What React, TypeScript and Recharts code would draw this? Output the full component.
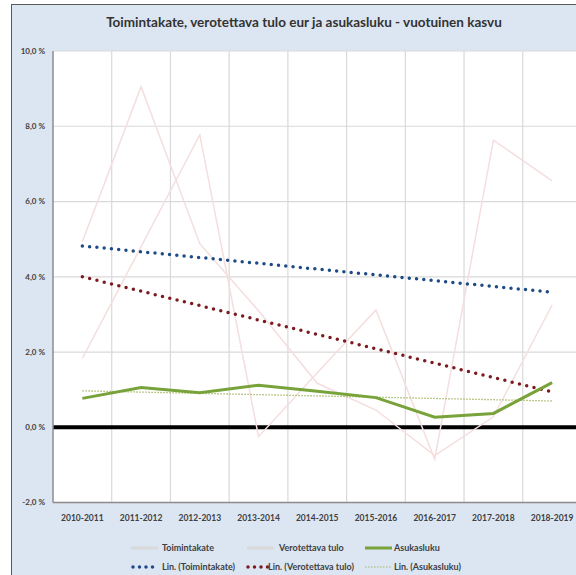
import React from "react";
import {
  CartesianGrid,
  Line,
  LineChart,
  ReferenceLine,
  XAxis,
  YAxis,
} from "recharts";

const vuodet = [
  "2010-2011",
  "2011-2012",
  "2012-2013",
  "2013-2014",
  "2014-2015",
  "2015-2016",
  "2016-2017",
  "2017-2018",
  "2018-2019",
];
const toimintakate = [4.93, 9.05, 4.88, 3.1, 1.17, 0.46, -0.75, 0.28, 3.25];
const verotettavaTulo = [1.83, 4.8, 7.77, -0.25, 1.45, 3.12, -0.85, 7.63, 6.55];
const asukasluku = [0.77, 1.06, 0.92, 1.12, 0.96, 0.79, 0.27, 0.37, 1.19];
// trendiviivat: vain alku- ja loppupiste, väli yhdistetään
const linToimintakate = [4.82, null, null, null, null, null, null, null, 3.59];
const linVerotettava = [4.0, null, null, null, null, null, null, null, 0.94];
const linAsukasluku = [0.97, null, null, null, null, null, null, null, 0.7];
const yTicks = [-2, 0, 2, 4, 6, 8, 10];

const data = vuodet.map((v, i) => ({
  vuosi: v,
  toimintakate: toimintakate[i],
  verotettava: verotettavaTulo[i],
  asukasluku: asukasluku[i],
  linToim: linToimintakate[i],
  linVero: linVerotettava[i],
  linAsuk: linAsukasluku[i],
}));

const FONT = "Lato, 'Open Sans', sans-serif";
const TEKSTI = "#404040";
const VAALEA = "#f5dede";
const VIHREA = "#78a23a";
const SININEN = "#1f4b85";
const PUNAINEN = "#7d1a1f";
const VIHREA_TREND = "#a3b863";

const fmtPros = (v: number) => `${v.toFixed(1).replace(".", ",")} %`;

function YTick({ x, y, payload }: any) {
  return (
    <text x={x} y={y} dy="0.35em" textAnchor="end" fontSize={8} fontWeight={700} fill={TEKSTI} fontFamily={FONT}>
      {fmtPros(payload.value)}
    </text>
  );
}

function Swatch({ kind }: { kind: string }) {
  if (kind === "grey")
    return <line x1={0} y1={4} x2={27} y2={4} stroke="#d9d9d9" strokeWidth={3} />;
  if (kind === "green")
    return <line x1={0} y1={4} x2={27} y2={4} stroke={VIHREA} strokeWidth={3} />;
  if (kind === "blue" || kind === "red")
    return (
      <line x1={2} y1={4} x2={22} y2={4} stroke={kind === "blue" ? SININEN : PUNAINEN}
        strokeWidth={3.5} strokeDasharray="0 6.5" strokeLinecap="round" />
    );
  return <line x1={0} y1={4} x2={27} y2={4} stroke={VIHREA_TREND} strokeWidth={1.2} strokeDasharray="1.5 1.5" />;
}

const selite = [
  { nimi: "Toimintakate", kind: "grey", sx: 131, tx: 162, y: 548 },
  { nimi: "Verotettava tulo", kind: "grey", sx: 247, tx: 279, y: 548 },
  { nimi: "Asukasluku", kind: "green", sx: 365, tx: 394, y: 548 },
  { nimi: "Lin. (Toimintakate)", kind: "blue", sx: 131, tx: 162, y: 567 },
  { nimi: "Lin. (Verotettava tulo)", kind: "red", sx: 246, tx: 268, y: 567 },
  { nimi: "Lin. (Asukasluku)", kind: "gtrend", sx: 365, tx: 394, y: 567 },
];

export default function App() {
  return (
    <div style={{ position: "absolute", left: 0, top: 0, width: 576, height: 575, overflow: "hidden", background: "#fff" }}>
      <div
        style={{
          position: "absolute",
          left: 11,
          top: 4,
          width: 620,
          height: 600,
          border: "1.5px solid #595959",
          background: "#dce6f2",
        }}
      />
      <div
        style={{
          position: "absolute",
          left: 0,
          top: 14,
          width: 608,
          textAlign: "center",
          fontFamily: FONT,
          fontWeight: 700,
          fontSize: 13.5,
          color: "#333",
        }}
      >
        Toimintakate, verotettava tulo eur ja asukasluku - vuotuinen kasvu
      </div>
      <div style={{ position: "absolute", left: 0, top: 0 }}>
        <LineChart width={600} height={575} data={data} margin={{ top: 51, right: 18.5, left: 8, bottom: 42.4 }}>
          <CartesianGrid
            stroke="#d9d9d9"
            strokeWidth={1.2}
            fill="#fff"
            verticalCoordinatesGenerator={({ offset }: any) =>
              vuodet.map((_, i) => offset.left + ((i + 1) * offset.width) / vuodet.length)
            }
          />
          <XAxis
            dataKey="vuosi"
            padding={{ left: 29.36, right: 29.36 }}
            height={30}
            tickSize={0}
            tickMargin={12}
            axisLine={{ stroke: "#8c8c8c", strokeWidth: 1.5 }}
            tick={{ fontSize: 8.5, fontWeight: 700, fill: TEKSTI, fontFamily: FONT }}
            interval={0}
          />
          <YAxis
            domain={[-2, 10]}
            ticks={yTicks}
            width={45}
            tickSize={0}
            tickMargin={8}
            axisLine={{ stroke: "#8c8c8c", strokeWidth: 1.5 }}
            tick={<YTick />}
          />
          <ReferenceLine y={0} stroke="#000" strokeWidth={4} />
          <Line dataKey="toimintakate" stroke={VAALEA} strokeWidth={1.5} dot={false} isAnimationActive={false} />
          <Line dataKey="verotettava" stroke={VAALEA} strokeWidth={1.5} dot={false} isAnimationActive={false} />
          <Line dataKey="linToim" stroke={SININEN} strokeWidth={3.5} strokeDasharray="0 7.3" strokeLinecap="round"
            connectNulls dot={false} isAnimationActive={false} />
          <Line dataKey="linVero" stroke={PUNAINEN} strokeWidth={3.5} strokeDasharray="0 7.5" strokeLinecap="round"
            connectNulls dot={false} isAnimationActive={false} />
          <Line dataKey="linAsuk" stroke={VIHREA_TREND} strokeWidth={1.3} strokeDasharray="1.5 1.5"
            connectNulls dot={false} isAnimationActive={false} />
          <Line dataKey="asukasluku" stroke={VIHREA} strokeWidth={3} dot={false} isAnimationActive={false} />
        </LineChart>
      </div>
      {selite.map((s) => (
        <React.Fragment key={s.nimi}>
          <svg style={{ position: "absolute", left: s.sx, top: s.y - 4 }} width={28} height={8}>
            <Swatch kind={s.kind} />
          </svg>
          <div
            style={{
              position: "absolute",
              left: s.tx,
              top: s.y - 7,
              fontFamily: FONT,
              fontWeight: 700,
              fontSize: 9,
              lineHeight: "14px",
              color: TEKSTI,
              whiteSpace: "nowrap",
            }}
          >
            {s.nimi}
          </div>
        </React.Fragment>
      ))}
    </div>
  );
}
